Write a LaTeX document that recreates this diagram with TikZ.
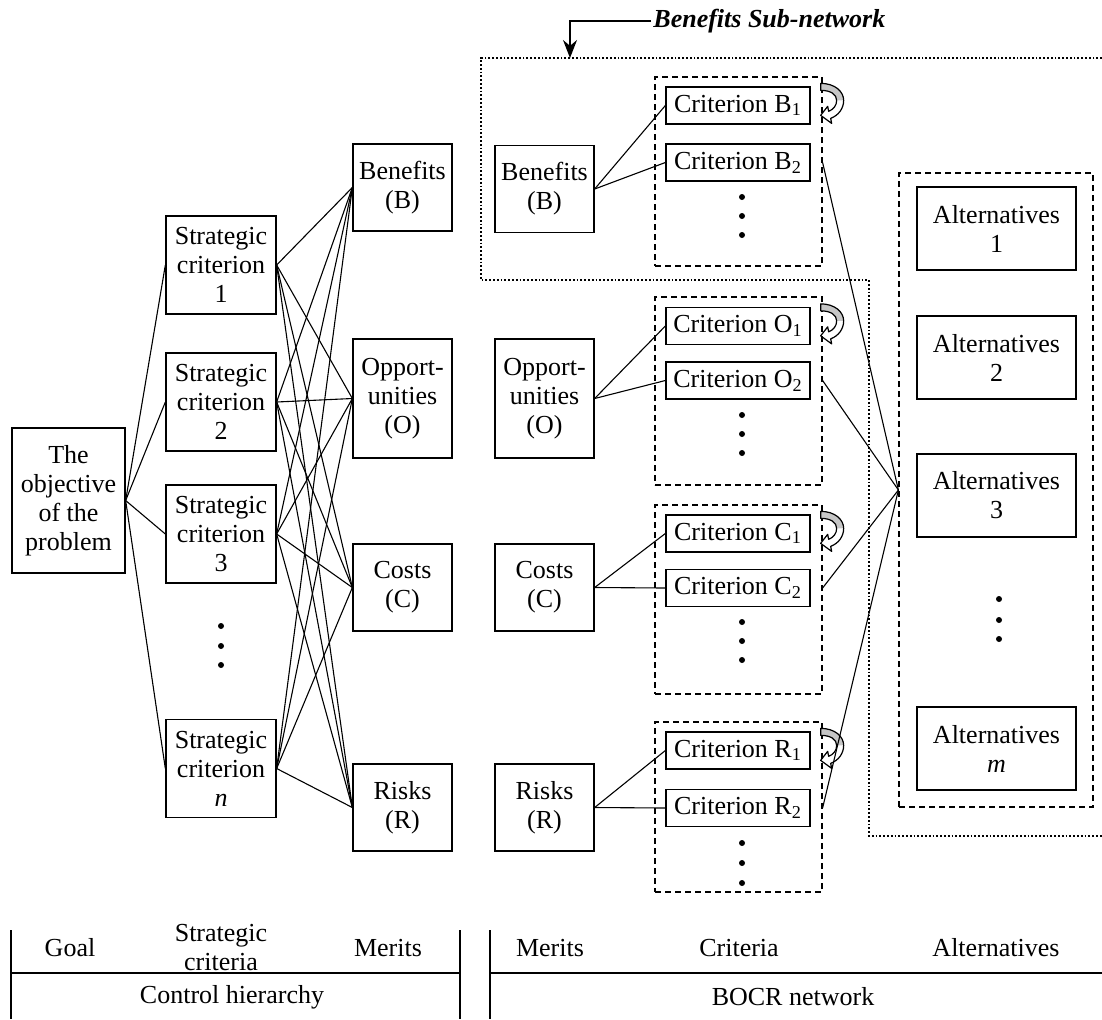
\documentclass[tikz,border=0pt]{standalone}
\usepackage{fontspec}
\setmainfont{Liberation Serif}
\usetikzlibrary{arrows.meta,calc}
\newcommand{\boxfont}{\fontsize{13}{14.5}\selectfont}

\begin{document}
\begin{tikzpicture}[
    x=0.5pt, y=-0.5pt,
    every node/.style={font=\boxfont},
    box/.style={draw, line width=0.65pt, align=center, inner sep=0pt},
    goalbox/.style={box, minimum width=56.5pt, minimum height=72.5pt},
    stratbox/.style={box, minimum width=55pt, minimum height=49pt},
    meritbox/.style={box, minimum width=49.5pt, minimum height=43.5pt},
    critbox/.style={box, minimum width=72pt, minimum height=18.5pt},
    altbox/.style={box, minimum width=79.5pt, minimum height=41.5pt},
    group/.style={draw, dash pattern=on 3pt off 2pt, line width=0.6pt, inner sep=0pt},
    link/.style={line width=0.55pt},
    loopback/.pic={
        \fill[gray!45] (10,-3) .. controls (24,-3) and (33,5) .. (33,14) -- (26,14) .. controls (26,8) and (20,4) .. (10,4) -- cycle;
        \draw[line width=0.6pt, line join=round] (10,-3) .. controls (24,-3) and (33,5) .. (33,14)
            .. controls (33,22) and (28,29) .. (20,32) -- (21,37) -- (10,29) -- (17,20) -- (18,25)
            .. controls (23,23) and (26,19) .. (26,14) .. controls (26,8) and (20,4) .. (10,4) -- cycle;
    }
]
    \useasboundingbox (0,0) rectangle (1102,1019);

    % Goal
    \node[goalbox] (goal) at (68.5,500.5) {The\\objective\\of the\\problem};

    % Strategic criteria
    \node[stratbox] (sc1) at (221,265) {Strategic\\criterion\\1};
    \node[stratbox] (sc2) at (221,402) {Strategic\\criterion\\2};
    \node[stratbox] (sc3) at (221,534) {Strategic\\criterion\\3};
    \node[stratbox] (scn) at (221,768.5) {Strategic\\criterion\\\textit{n}};
    \foreach \y in {626,646,665} \fill (221,\y) circle (1.5pt);

    % Merits (control hierarchy)
    \node[meritbox] (mb) at (402.5,187.5) {Benefits\\(B)};
    \node[meritbox, minimum height=59.5pt] (mo) at (402.5,398.5) {Opport-\\unities\\(O)};
    \node[meritbox] (mc) at (402.5,587.5) {Costs\\(C)};
    \node[meritbox] (mr) at (402.5,807.5) {Risks\\(R)};

    \foreach \s in {sc1,sc2,sc3,scn}
        \draw[link] (goal.east) -- (\s.west);
    \foreach \s in {sc1,sc2,sc3,scn}
        \foreach \m in {mb,mo,mc,mr}
            \draw[link] (\s.east) -- (\m.west);

    % Merits (BOCR network)
    \node[meritbox] (nb) at (544.5,189) {Benefits\\(B)};
    \node[meritbox, minimum height=59.5pt] (no) at (544.5,398.5) {Opport-\\unities\\(O)};
    \node[meritbox] (nc) at (544.5,587.5) {Costs\\(C)};
    \node[meritbox] (nr) at (544.5,807.5) {Risks\\(R)};

    % Criteria groups
    \node[group, minimum width=83.5pt, minimum height=94.5pt] (grpB) at (738.5,171.5) {};
    \node[group, minimum width=83.5pt, minimum height=94pt] (grpO) at (738.5,391) {};
    \node[group, minimum width=83.5pt, minimum height=94.5pt] (grpC) at (738.5,599.5) {};
    \node[group, minimum width=83.5pt, minimum height=85pt] (grpR) at (738.5,807) {};

    \node[critbox] (cb1) at (738,105.5) {Criterion B\textsubscript{1}};
    \node[critbox] (cb2) at (738,162.5) {Criterion B\textsubscript{2}};
    \node[critbox] (co1) at (738,326) {Criterion O\textsubscript{1}};
    \node[critbox] (co2) at (738,380.5) {Criterion O\textsubscript{2}};
    \node[critbox] (cc1) at (738,533.5) {Criterion C\textsubscript{1}};
    \node[critbox] (cc2) at (738,588) {Criterion C\textsubscript{2}};
    \node[critbox] (cr1) at (738,750.5) {Criterion R\textsubscript{1}};
    \node[critbox] (cr2) at (738,808) {Criterion R\textsubscript{2}};

    \foreach \y in {197,216,235,415,434,453,622,641,660,843,863,883}
        \fill (742,\y) circle (1.5pt);

    \foreach \n/\a/\b in {nb/cb1/cb2, no/co1/co2, nc/cc1/cc2, nr/cr1/cr2} {
        \draw[link] (\n.east) -- (\a.west);
        \draw[link] (\n.east) -- (\b.west);
        \pic at (\a.north east) {loopback};
    }

    % Alternatives
    \node[group, minimum width=97pt, minimum height=317pt] (alts) at (996,490) {};
    \node[altbox] (alt1) at (996.5,228.5) {Alternatives\\1};
    \node[altbox] (alt2) at (996.5,357.5) {Alternatives\\2};
    \node[altbox] (alt3) at (996.5,495.5) {Alternatives\\3};
    \node[altbox] (altm) at (996.5,748.5) {Alternatives\\\textit{m}};
    \foreach \y in {599,620,639} \fill (999,\y) circle (1.5pt);

    \foreach \g/\c in {grpB/cb2, grpO/co2, grpC/cc2, grpR/cr2}
        \draw[link] (\g.east |- \c) -- (alts.west);

    % Benefits sub-network
    \draw[densely dotted, line width=0.9pt] (1102,58) -- (481,58) -- (481,280) -- (869,280) -- (869,836) -- (1102,836);
    \node[anchor=west, inner sep=1pt, font=\boxfont\bfseries\itshape] (subnet) at (651,21) {Benefits Sub-network};
    \coordinate (subtip) at (570,58);
    \draw[-{Stealth[length=9pt,width=7pt]}, line width=0.6pt] (subnet.west) -| (subtip);

    % Legend table
    \draw[line width=0.7pt] (11,930) -- (11,1019) (460,930) -- (460,1019) (490,930) -- (490,1019);
    \draw[line width=0.7pt] (11,973) -- (460,973) (490,973) -- (1102,973);
    \node (tgoal) at (70,948) {Goal};
    \node[align=center] (tstrat) at (221,947) {Strategic\\criteria};
    \node (tmerit1) at (388,948) {Merits};
    \node (tmerit2) at (550,948) {Merits};
    \node (tcrit) at (739,948) {Criteria};
    \node (talt) at (996,948) {Alternatives};
    \node (tctrl) at (232,997) {Control hierarchy};
    \node (tbocr) at (793,997) {BOCR network};
\end{tikzpicture}
\end{document}
